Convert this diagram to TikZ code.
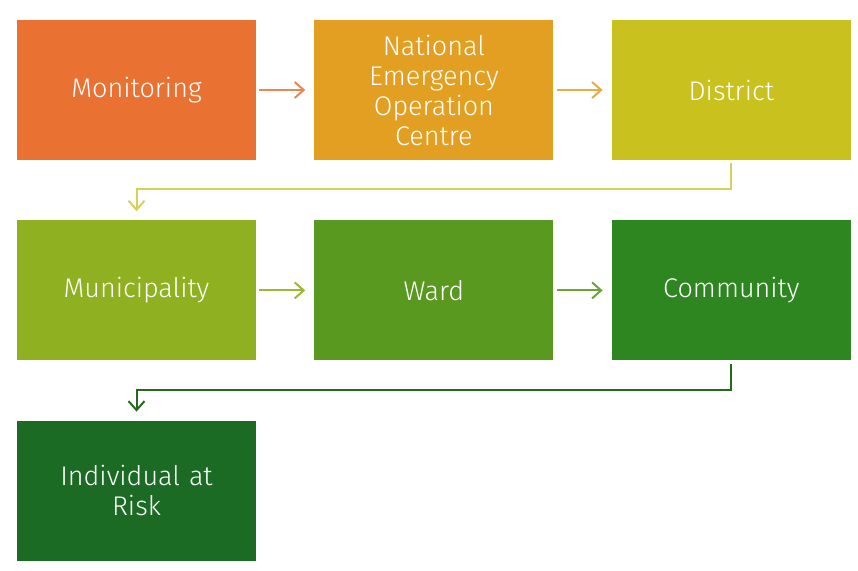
\documentclass[tikz,border=0pt]{standalone}
\usepackage{fontspec}
\setmainfont{Fira Sans Light}
\usetikzlibrary{positioning,arrows.meta}

\definecolor{cMon}{HTML}{E97132}
\definecolor{cNeoc}{HTML}{E39F21}
\definecolor{cDist}{HTML}{C9C11E}
\definecolor{cMun}{HTML}{8FB020}
\definecolor{cWard}{HTML}{5A991F}
\definecolor{cComm}{HTML}{2D861F}
\definecolor{cInd}{HTML}{1C6B24}

\tikzset{
  stage/.style={rectangle, minimum width=239pt, minimum height=140pt,
    text width=220pt, align=center, text=white, inner sep=0pt,
    font=\fontsize{27}{30}\selectfont},
  flow/.style={-{Straight Barb[length=9pt,width=16pt]}, line width=2pt},
}

\begin{document}
\begin{tikzpicture}[node distance=58pt and 58pt]
    \useasboundingbox (0,0) rectangle (858pt,-570pt);

    % Top row
    \node[stage, fill=cMon] (mon) at (136.5pt,-90pt) {Monitoring};
    \node[stage, fill=cNeoc, right=58pt of mon] (neoc) {National\\Emergency\\Operation\\Centre};
    \node[stage, fill=cDist, right=58pt of neoc] (dist) {District};

    % Middle row
    \node[stage, fill=cMun, below=60pt of mon] (mun) {Municipality};
    \node[stage, fill=cWard, right=58pt of mun] (ward) {Ward};
    \node[stage, fill=cComm, right=58pt of ward] (comm) {Community};

    % Bottom row
    \node[stage, fill=cInd, below=60pt of mun] (ind) {Individual at\\Risk};

    % Connectors
    \draw[flow, cMon!85!white] ([xshift=3pt]mon.east) -- ([xshift=-9pt]neoc.west);
    \draw[flow, cNeoc!85!white] ([xshift=3pt]neoc.east) -- ([xshift=-9pt]dist.west);
    \draw[flow, cDist!75!white] ([yshift=-3pt]dist.south) -- ++(0,-26pt) -| ([yshift=9pt]mun.north);
    \draw[flow, cMun!90!white] ([xshift=3pt]mun.east) -- ([xshift=-9pt]ward.west);
    \draw[flow, cWard!90!white] ([xshift=3pt]ward.east) -- ([xshift=-9pt]comm.west);
    \draw[flow, cComm!80!black] ([yshift=-3pt]comm.south) -- ++(0,-26pt) -| ([yshift=9pt]ind.north);
\end{tikzpicture}
\end{document}
